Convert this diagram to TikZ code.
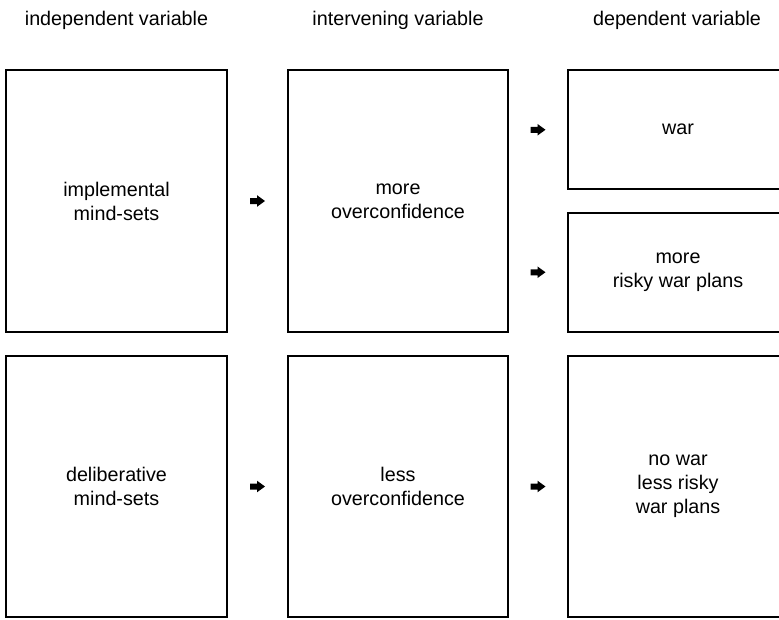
\documentclass[tikz,border=0pt]{standalone}
\usepackage{fontspec}
\setmainfont{Liberation Sans}
\usetikzlibrary{calc}
\begin{document}
\begin{tikzpicture}[x=0.75pt,y=-0.75pt,
  txt/.style={font=\fontsize{14.8pt}{18pt}\selectfont},
  box/.style={draw=black,line width=1.5pt,inner sep=0pt,align=center,txt},
  head/.style={anchor=base,txt},
  blockarrow/.pic={\fill[black] (-7.5,-3) -- (-0.5,-3) -- (-0.5,-5.8) -- (7.5,0) -- (-0.5,5.8) -- (-0.5,3) -- (-7.5,3) -- cycle;}]
\useasboundingbox (0,0) rectangle (779,619);
\clip (0,0) rectangle (779,619);
\fill[white] (0,0) rectangle (779,619);
% headers
\node[head] (h1) at (116.5,25) {independent variable};
\node[head] (h2) at (398,25) {intervening variable};
\node[head] (h3) at (677,25) {dependent variable};
% boxes
\node[box,minimum width=165.75pt,minimum height=196.5pt] (b11) at (116.5,201) {implemental\\mind-sets};
\node[box,minimum width=165pt,minimum height=196.5pt] (b12) at (398,201) {more\\overconfidence};
\node[box,minimum width=165pt,minimum height=89.6pt] (b13) at (678,129.75) {war};
\node[box,minimum width=165pt,minimum height=89.6pt] (b14) at (678,272.25) {more\\risky war plans};
\node[box,minimum width=165.75pt,minimum height=195.75pt] (b21) at (116.5,486.5) {deliberative\\mind-sets};
\node[box,minimum width=165pt,minimum height=195.75pt] (b22) at (398,486.5) {less\\overconfidence};
\node[box,minimum width=165pt,minimum height=195.75pt] (b23) at (678,486.5) {no war\\less risky\\war plans};
% arrows
\coordinate (a1) at ($(b11.east)!0.5!(b12.west)$);
\coordinate (a2) at ($(b12.east |- b13.west)!0.5!(b13.west)$);
\coordinate (a3) at ($(b12.east |- b14.west)!0.5!(b14.west)$);
\coordinate (a4) at ($(b21.east)!0.5!(b22.west)$);
\coordinate (a5) at ($(b22.east)!0.5!(b23.west)$);
\pic at (a1) {blockarrow};
\pic at (a2) {blockarrow};
\pic at (a3) {blockarrow};
\pic at (a4) {blockarrow};
\pic at (a5) {blockarrow};
\end{tikzpicture}
\end{document}
